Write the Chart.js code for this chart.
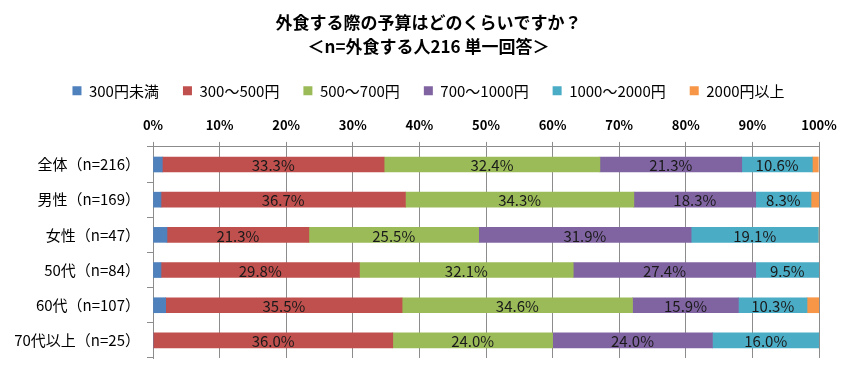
<!DOCTYPE html>
<html lang="ja">
<head>
<meta charset="utf-8">
<title>外食する際の予算</title>
<script src="https://cdn.jsdelivr.net/npm/chart.js@4/dist/chart.umd.min.js"></script>
<style>
  html, body { margin: 0; padding: 0; background: #fff; }
  #wrap { width: 857px; height: 377px; }
</style>
</head>
<body>
<div id="wrap"><canvas id="budgetChart" width="857" height="377"></canvas></div>
<script>
const categories = ["全体（n=216）", "男性（n=169）", "女性（n=47）", "50代（n=84）", "60代（n=107）", "70代以上（n=25）"];
const seriesNames = ["300円未満", "300～500円", "500～700円", "700～1000円", "1000～2000円", "2000円以上"];

const under300 = [1.4, 1.2, 2.1, 1.2, 1.9, 0];
const from300to500 = [33.3, 36.7, 21.3, 29.8, 35.5, 36.0];
const from500to700 = [32.4, 34.3, 25.5, 32.1, 34.6, 24.0];
const from700to1000 = [21.3, 18.3, 31.9, 27.4, 15.9, 24.0];
const from1000to2000 = [10.6, 8.3, 19.1, 9.5, 10.3, 16.0];
const over2000 = [0.9, 1.2, 0, 0, 1.9, 0];

const xTicks = [0, 10, 20, 30, 40, 50, 60, 70, 80, 90, 100];

const colors = ["#4f81bd", "#c0504d", "#9bbb59", "#8064a2", "#4bacc6", "#f79646"];
const labelledSeries = [1, 2, 3, 4];
const fontFamily = "'Noto Sans CJK JP', 'Noto Sans', sans-serif";

const values = [under300, from300to500, from500to700, from700to1000, from1000to2000, over2000];

// percentage text in the middle of every labelled segment
const segmentLabels = {
  id: "segmentLabels",
  afterDatasetsDraw(chart) {
    const ctx = chart.ctx;
    ctx.save();
    ctx.font = `15px ${fontFamily}`;
    ctx.fillStyle = "#1a1a1a";
    ctx.textAlign = "center";
    ctx.textBaseline = "middle";

    labelledSeries.forEach((index) => {
      const meta = chart.getDatasetMeta(index);
      meta.data.forEach((bar, i) => {
        const value = chart.data.datasets[index].data[i];
        if (!value) {
          return;
        }
        const center = (bar.x + bar.base) / 2;
        ctx.fillText(`${value.toFixed(1)}%`, center, bar.y + 1);
      });
    });

    ctx.restore();
  }
};

new Chart(document.getElementById("budgetChart"), {
  type: "bar",
  data: {
    labels: categories,
    datasets: seriesNames.map((name, index) => ({
      label: name,
      data: values[index],
      backgroundColor: colors[index],
      borderWidth: 0,
      barThickness: 15
    }))
  },
  options: {
    indexAxis: "y",
    responsive: false,
    animation: false,
    layout: { padding: { left: 0, right: 0, top: 0, bottom: 19 } },
    plugins: {
      title: {
        display: true,
        text: ["外食する際の予算はどのくらいですか？", "＜n=外食する人216 単一回答＞"],
        color: "#000",
        font: { family: fontFamily, size: 17, weight: "bold", lineHeight: 1.45 },
        padding: { top: 10, bottom: 0 }
      },
      legend: {
        position: "top",
        labels: {
          color: "#000",
          boxWidth: 9,
          boxHeight: 9,
          padding: 24,
          font: { family: fontFamily, size: 15 }
        }
      },
      tooltip: { enabled: false }
    },
    scales: {
      x: {
        position: "top",
        stacked: true,
        min: 0,
        max: 100,
        afterBuildTicks: (scale) => {
          scale.ticks = xTicks.map((value) => ({ value }));
        },
        ticks: {
          color: "#000",
          padding: 9,
          font: { family: fontFamily, size: 13, weight: "bold" },
          callback: (value) => `${value}%`
        },
        grid: { color: "#8c8c8c", tickLength: 5, lineWidth: 1 },
        border: { color: "#8c8c8c" }
      },
      y: {
        stacked: true,
        afterFit: (scale) => {
          scale.width = 153;
        },
        ticks: {
          color: "#000",
          padding: 7,
          font: { family: fontFamily, size: 15 }
        },
        grid: { drawOnChartArea: false, offset: true, tickLength: 6, color: "#8c8c8c" },
        border: { color: "#8c8c8c" }
      },
      // empty strip on the right so the plot stops at the same place as the original
      gutter: {
        axis: "y",
        position: "right",
        afterFit: (scale) => {
          scale.width = 38;
        },
        ticks: { display: false },
        grid: { display: false },
        border: { display: false }
      }
    }
  },
  plugins: [segmentLabels]
});
</script>
</body>
</html>
